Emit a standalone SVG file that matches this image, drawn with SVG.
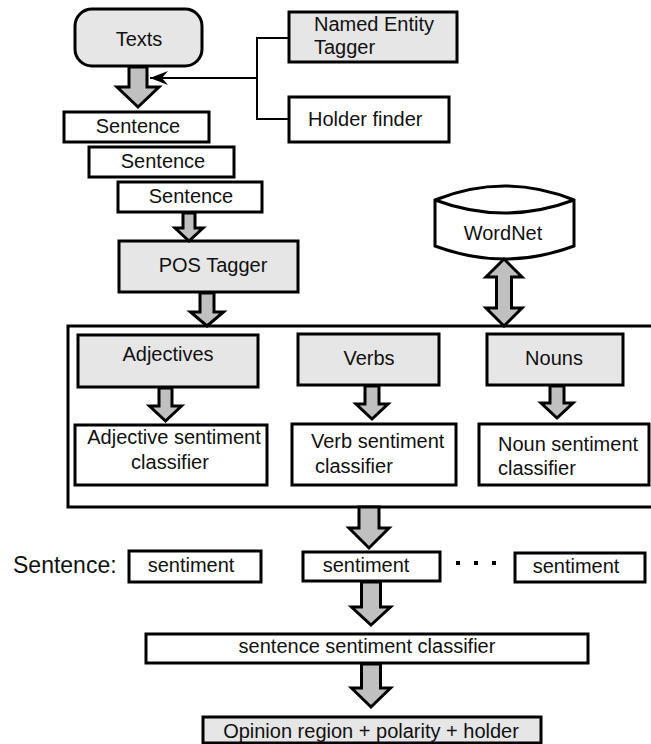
<svg xmlns="http://www.w3.org/2000/svg" width="651" height="744" viewBox="0 0 651 744">
  <style>
    .box { stroke: #000; stroke-width: 3; fill: #fff; }
    .gray { fill: #e6e6e6; }
    .fat { stroke: #000; stroke-width: 3; fill: #c0c0c0; stroke-linejoin: miter; }
    .wire { stroke: #000; stroke-width: 2; fill: none; }
    text { font-family: "Liberation Sans", Arial, sans-serif; font-size: 20px; fill: #111; }
    .c { text-anchor: middle; }
  </style>
  <defs>
    <marker id="head" markerWidth="20" markerHeight="16" refX="19" refY="8" orient="auto" markerUnits="userSpaceOnUse">
      <path d="M19,8 L1,1 L7,8 L1,15 Z" fill="#000"/>
    </marker>
  </defs>

  <rect width="651" height="744" fill="#fff"/>

  <!-- big container around the part-of-speech branches -->
  <rect id="container" class="box" x="68" y="326" width="600" height="181" fill="none"/>

  <!-- nodes -->
  <g id="texts">
    <rect class="box gray" x="75" y="9" width="127" height="57" rx="17"/>
    <text class="c" x="139" y="46">Texts</text>
  </g>
  <g id="ne-tagger">
    <rect class="box gray" x="289" y="12" width="168" height="50"/>
    <text x="314" y="31">Named Entity</text>
    <text x="314" y="54">Tagger</text>
  </g>
  <g id="holder-finder">
    <rect class="box" x="289" y="97" width="160" height="45"/>
    <text x="308" y="126">Holder finder</text>
  </g>
  <g id="sentence-1">
    <rect class="box" x="64" y="112" width="145" height="30"/>
    <text class="c" x="138" y="133">Sentence</text>
  </g>
  <g id="sentence-2">
    <rect class="box" x="89" y="147" width="145" height="30"/>
    <text class="c" x="163" y="168">Sentence</text>
  </g>
  <g id="sentence-3">
    <rect class="box" x="118" y="182" width="144" height="30"/>
    <text class="c" x="191" y="203">Sentence</text>
  </g>
  <g id="pos-tagger">
    <rect class="box gray" x="119" y="241" width="179" height="51"/>
    <text class="c" x="213" y="272">POS Tagger</text>
  </g>
  <g id="wordnet">
    <path class="box" d="M435,200 Q504.5,172 574,200 L574,246 Q504.5,272 435,246 Z"/>
    <path class="wire" style="stroke-width:3" d="M435,200 Q504.5,226 574,200"/>
    <text class="c" x="503" y="240">WordNet</text>
  </g>
  <g id="adjectives">
    <rect class="box gray" x="78" y="335" width="180" height="52"/>
    <text class="c" x="168" y="361">Adjectives</text>
  </g>
  <g id="verbs">
    <rect class="box gray" x="298" y="334" width="141" height="51"/>
    <text class="c" x="369" y="365">Verbs</text>
  </g>
  <g id="nouns">
    <rect class="box gray" x="487" y="334" width="136" height="51"/>
    <text class="c" x="554" y="365">Nouns</text>
  </g>
  <g id="adj-classifier">
    <rect class="box" x="75" y="425" width="192" height="60"/>
    <text class="c" x="174" y="444">Adjective sentiment</text>
    <text class="c" x="170" y="469">classifier</text>
  </g>
  <g id="verb-classifier">
    <rect class="box" x="292" y="424" width="164" height="61"/>
    <text x="311" y="448">Verb sentiment</text>
    <text x="315" y="473">classifier</text>
  </g>
  <g id="noun-classifier">
    <rect class="box" x="479" y="424" width="170" height="61"/>
    <text x="498" y="451">Noun sentiment</text>
    <text x="498" y="475">classifier</text>
  </g>
  <g id="sentence-label">
    <text x="13" y="573" style="font-size:23px">Sentence:</text>
  </g>
  <g id="sentiment-1">
    <rect class="box" x="129" y="551" width="132" height="31"/>
    <text class="c" x="191" y="572">sentiment</text>
  </g>
  <g id="sentiment-2">
    <rect class="box" x="303" y="552" width="137" height="29"/>
    <text class="c" x="366" y="572">sentiment</text>
  </g>
  <g id="ellipsis">
    <rect x="456" y="561" width="4" height="4" fill="#000"/>
    <rect x="474" y="561" width="4" height="4" fill="#000"/>
    <rect x="492" y="561" width="4" height="4" fill="#000"/>
  </g>
  <g id="sentiment-3">
    <rect class="box" x="515" y="553" width="130" height="29"/>
    <text class="c" x="576" y="573">sentiment</text>
  </g>
  <g id="sentence-classifier">
    <rect class="box" x="146" y="634" width="442" height="29"/>
    <text class="c" x="367" y="653">sentence sentiment classifier</text>
  </g>
  <g id="opinion">
    <rect class="box gray" x="203" y="717" width="338" height="26"/>
    <text class="c" x="371" y="738">Opinion region + polarity + holder</text>
  </g>

  <!-- connectors -->
  <g id="connectors">
    <!-- block arrows: shaft then triangular head -->
    <polygon class="fat" points="129,67 147,67 147,87 159,87 138,107 117,87 129,87"/>
    <polygon class="fat" points="183,213 195,213 195,228 203,228 189,241 175,228 183,228"/>
    <polygon class="fat" points="200,293 214,293 214,312 223.5,312 207,326 190.5,312 200,312"/>
    <polygon class="fat" points="159,388 172,388 172,406 181.5,406 165.5,421 149.5,406 159,406"/>
    <polygon class="fat" points="365,386 379,386 379,404 388,404 372,419 356,404 365,404"/>
    <polygon class="fat" points="550,386 564,386 564,403 573,403 557,418 541,403 550,403"/>
    <polygon class="fat" points="359,507 379,507 379,528 389,528 369,548 349,528 359,528"/>
    <polygon class="fat" points="361.5,582 380.5,582 380.5,607 390.5,607 371,625 351.5,607 361.5,607"/>
    <polygon class="fat" points="361.5,664 380.5,664 380.5,688 390.5,688 371,707 351.5,688 361.5,688"/>
    <!-- two-way link between WordNet and the classifiers -->
    <polygon class="fat" points="504,259 522,277 511.5,277 511.5,308 522,308 504,326 486,308 496.5,308 496.5,277 486,277"/>

    <!-- tagger and holder finder feed back into the text stream -->
    <path class="wire" d="M288,38 H257 V119 H288"/>
    <path class="wire" d="M257,78 H150" marker-end="url(#head)"/>
  </g>
</svg>
